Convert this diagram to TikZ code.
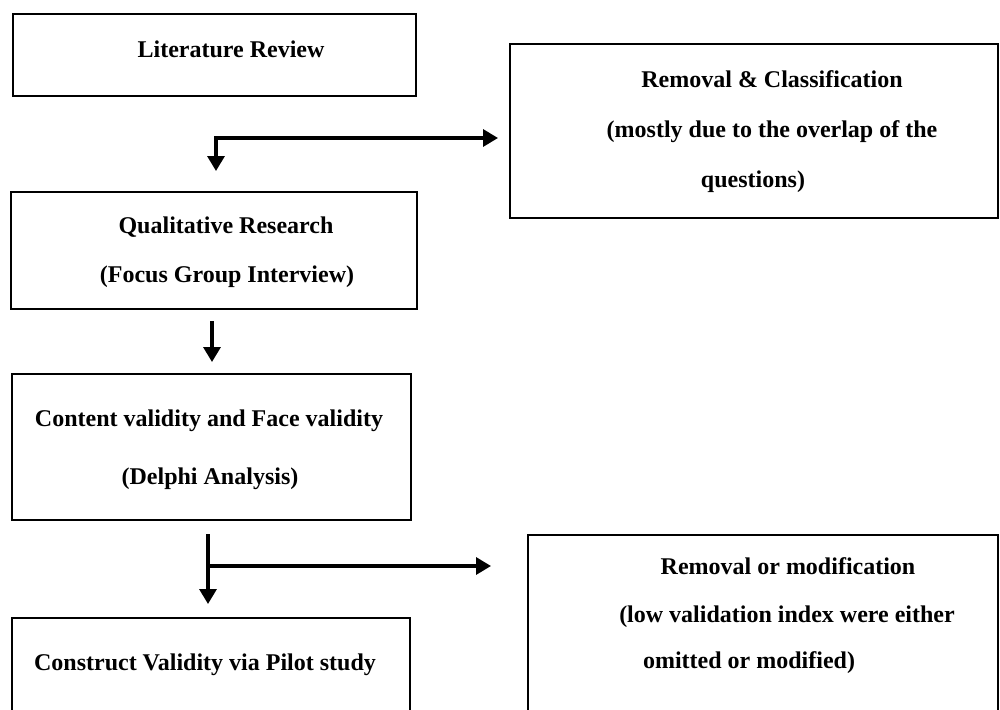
\documentclass[tikz,border=0pt]{standalone}
\usepackage{fontspec}
\setmainfont{Liberation Serif}
\usetikzlibrary{arrows.meta}
\begin{document}
\begin{tikzpicture}[x=1pt,y=-1pt,
  boxnode/.style={draw=black, line width=1.8pt, inner sep=0pt, anchor=north west},
  lbl/.style={font=\bfseries\fontsize{24}{28}\selectfont, inner sep=0pt, anchor=base},
  tip/.style={Triangle[length=15pt,width=17pt]},
  flow/.style={line width=3.3pt, -{Triangle[length=15pt,width=17pt]}}]
\useasboundingbox (0,0) rectangle (1000,709);
% boxes
\node[boxnode, minimum width=403pt, minimum height=82pt] (lit) at (12,13) {};
\node[boxnode, minimum width=488pt, minimum height=174pt] (rc) at (509,43) {};
\node[boxnode, minimum width=406pt, minimum height=117pt] (qr) at (10,191) {};
\node[boxnode, minimum width=399pt, minimum height=146pt] (cv) at (11,373) {};
\node[boxnode, minimum width=398pt, minimum height=160pt] (cs) at (11,617) {};
\node[boxnode, minimum width=470pt, minimum height=220pt] (rm) at (527,534) {};
% texts
\node[lbl] (tlit) at (231,57) {Literature Review};
\node[lbl] (trc1) at (772,87) {Removal \& Classification};
\node[lbl] (trc2) at (772,137) {(mostly due to the overlap of the};
\node[lbl] (trc3) at (753,187) {questions)};
\node[lbl] (tqr1) at (226,233) {Qualitative Research};
\node[lbl] (tqr2) at (227,282) {(Focus Group Interview)};
\node[lbl] (tcv1) at (209,426) {Content validity and Face validity};
\node[lbl] (tcv2) at (210,484) {(Delphi Analysis)};
\node[lbl] (tcs) at (205,670) {Construct Validity via Pilot study};
\node[lbl] (trm1) at (788,574) {Removal or modification};
\node[lbl] (trm2) at (787,622) {(low validation index were either};
\node[lbl] (trm3) at (749,668) {omitted or modified)};
% connectors
\coordinate (j1) at (216,138);
\draw[line width=3.3pt, {Triangle[length=15pt,width=17pt]}-{Triangle[length=15pt,width=17pt]},
      shorten <=20pt, shorten >=11pt] (j1 |- qr.north) -- (j1) -- (j1 -| rc.west);
\coordinate (a2) at (212,321);
\draw[flow, shorten >=11pt] (a2) -- (a2 |- cv.north);
\coordinate (a3) at (208,534);
\draw[flow, shorten >=13pt] (a3) -- (a3 |- cs.north);
\coordinate (j3) at (208,566);
\draw[flow, shorten >=36pt] (j3) -- (j3 -| rm.west);
\end{tikzpicture}
\end{document}
